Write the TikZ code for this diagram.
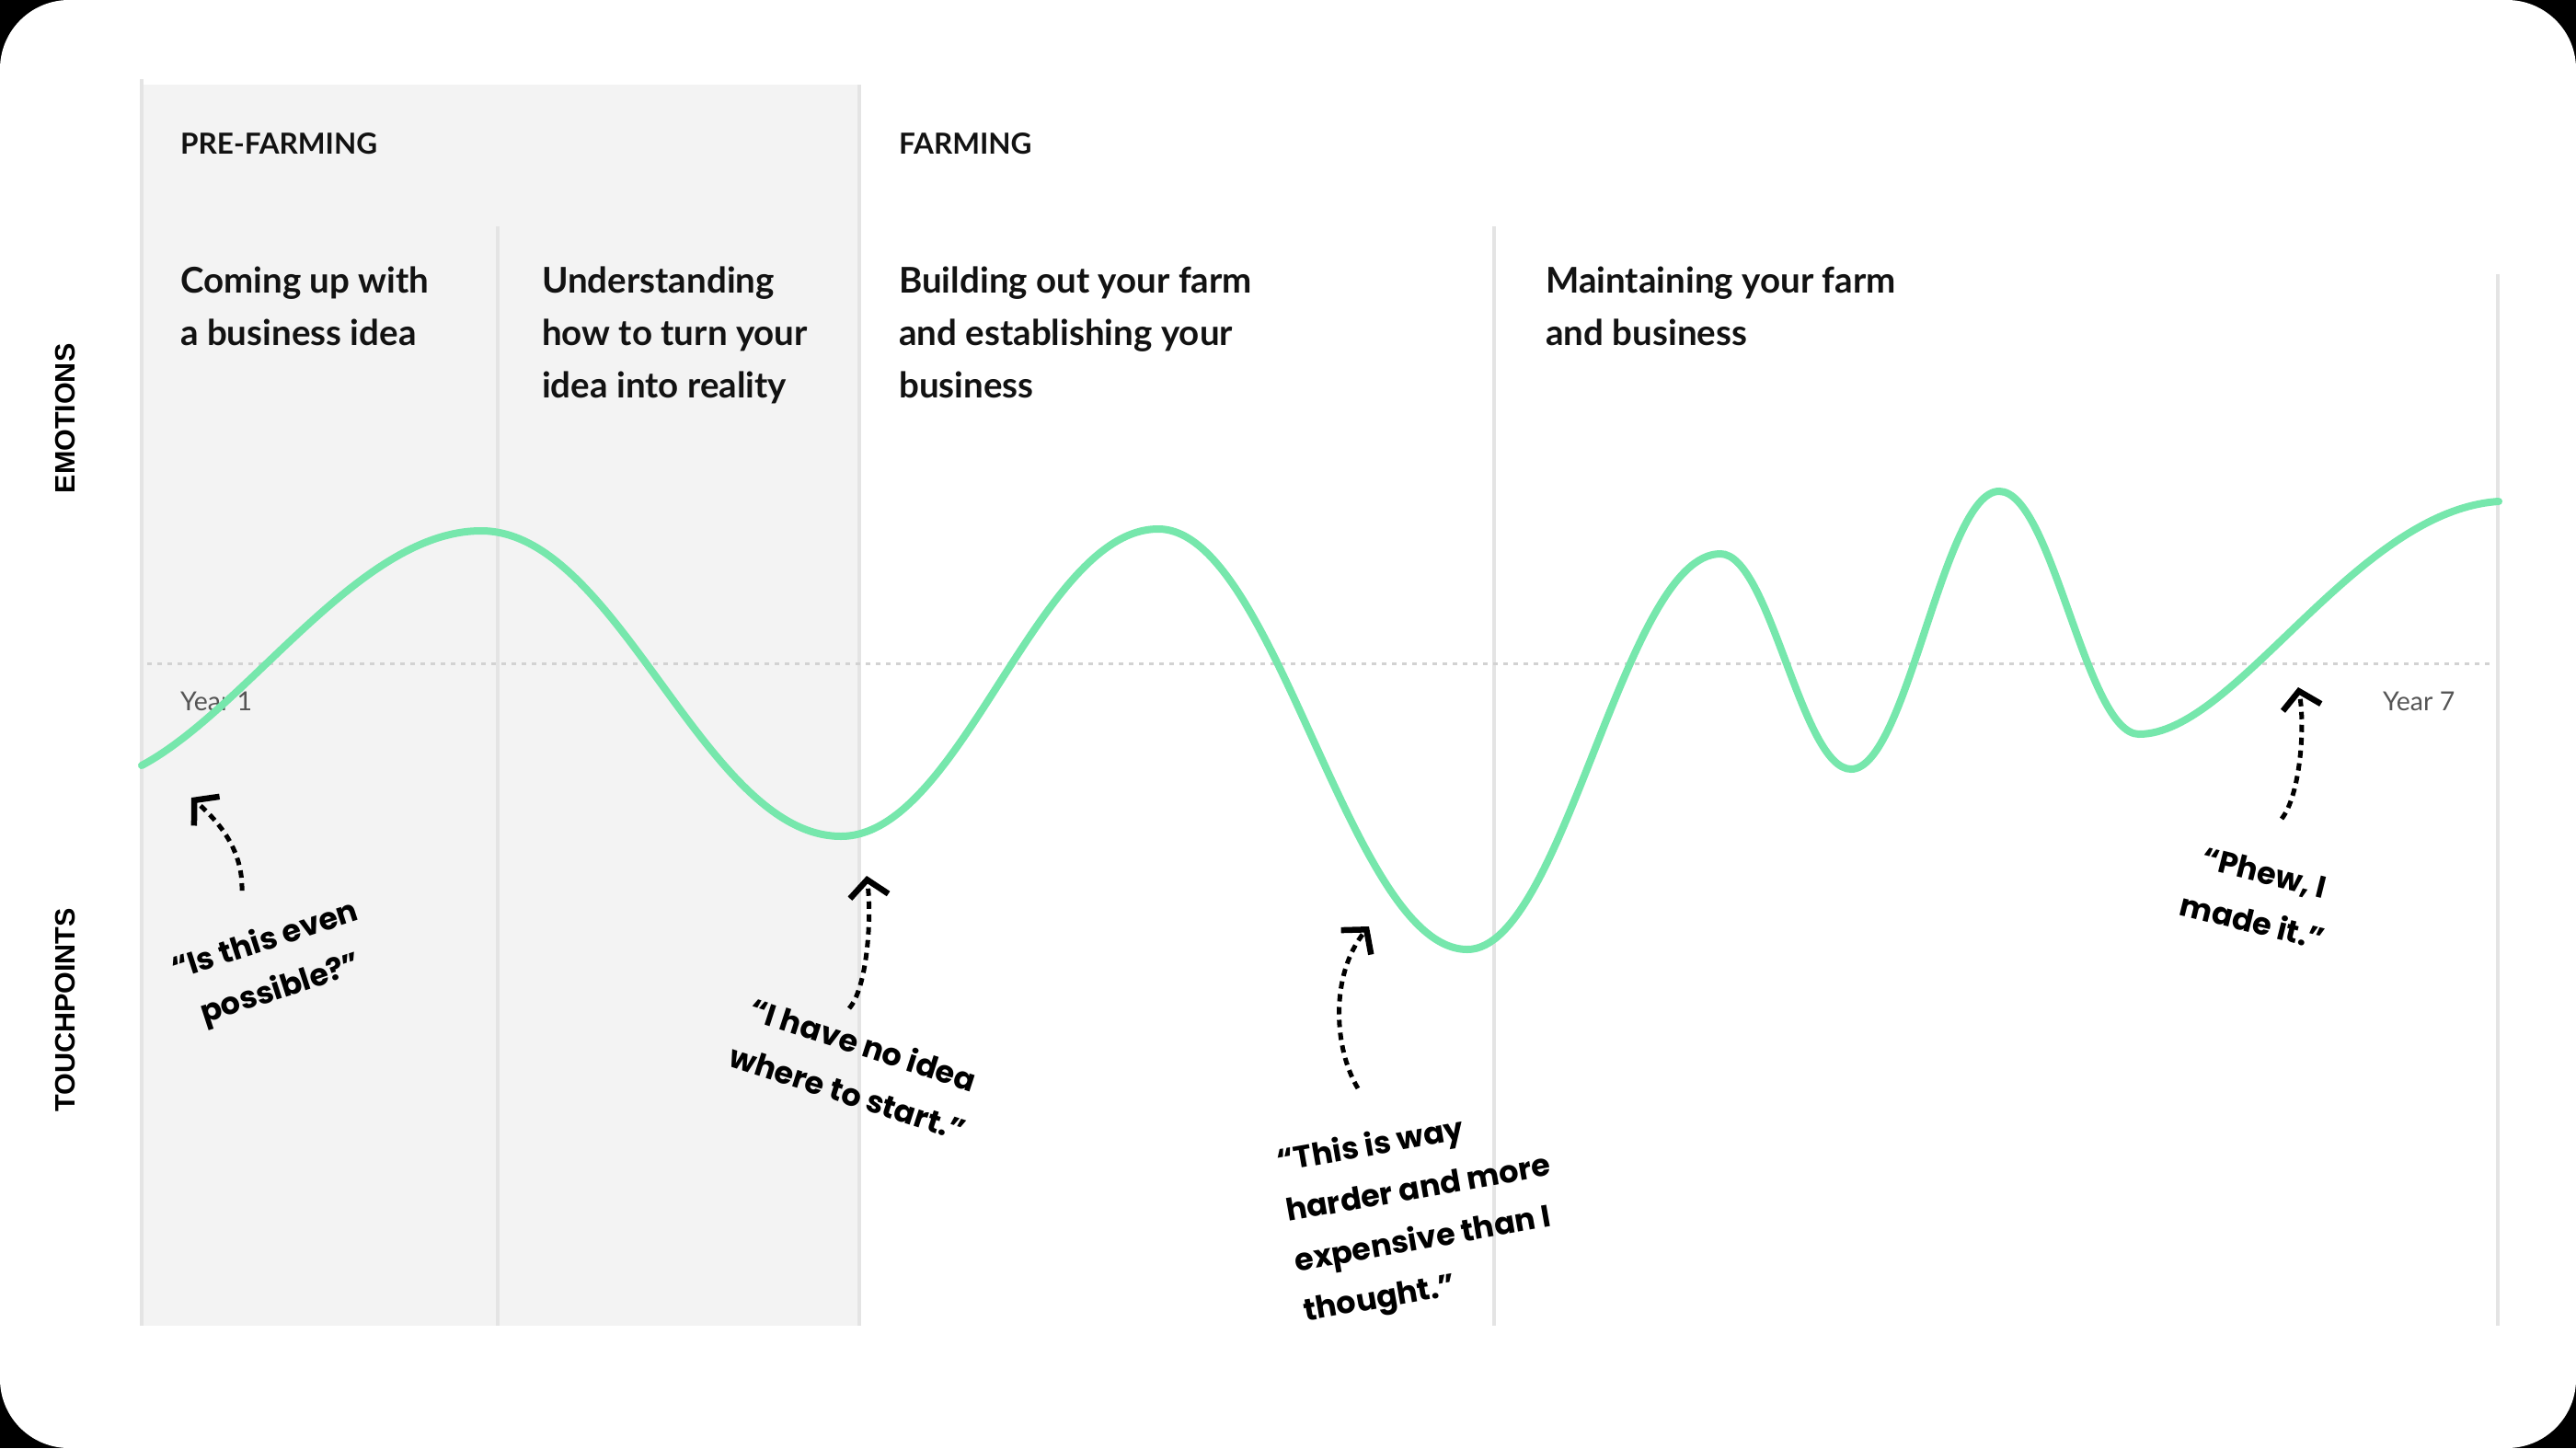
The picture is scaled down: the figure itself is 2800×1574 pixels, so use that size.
\documentclass[tikz,border=0pt]{standalone}
\usepackage{fontspec}
\setmainfont{Lato}
\newfontfamily\qfont{Poppins}
\newfontfamily\lblfont{Liberation Sans}
\usetikzlibrary{arrows.meta}
\definecolor{mint}{RGB}{118,231,172}
\definecolor{panel}{RGB}{243,243,243}
\definecolor{divider}{RGB}{228,228,228}
\definecolor{guide}{RGB}{210,210,210}
\definecolor{yeargray}{RGB}{85,85,85}
\begin{document}
\begin{tikzpicture}[x=1pt,y=-1pt,
 heading/.style={anchor=north west, inner sep=0pt, align=left, font=\fontsize{38.5}{57}\selectfont\bfseries, text=black!93},
 phase/.style={anchor=base west, inner sep=0pt, font=\fontsize{31.5}{38}\selectfont\bfseries, text=black!93},
 axislabel/.style={rotate=90, inner sep=0pt, font=\lblfont\fontsize{30.5}{36}\selectfont\bfseries},
 yearlabel/.style={anchor=base west, inner sep=0pt, text=yeargray, font=\fontsize{28.5}{32}\selectfont},
 quote/.style={inner sep=0pt, font=\qfont\fontsize{33.5}{55}\selectfont\bfseries},
 divline/.style={draw=divider, line width=4pt},
 pointer/.style={line width=5pt, dash pattern=on 8pt off 6pt, -{Straight Barb[length=18pt,width=42pt,line width=6.5pt]}},
 emotion/.style={draw=mint, line width=8pt, line cap=round}
]
\useasboundingbox (0,0) rectangle (2800,1574);
% frame
\fill[black] (0,0) rectangle (2800,1574);
\fill[white, rounded corners=75pt] (0,0) rectangle (2800,1574);
% pre-farming panel
\fill[panel] (154,92) rectangle (934,1441);
% dividers
\draw[divline] (154,86) -- (154,1441);
\draw[divline] (541,246) -- (541,1441);
\draw[divline] (934,92) -- (934,1441);
\draw[divline] (1624,246) -- (1624,1441);
\draw[divline] (2715,298) -- (2715,1441);
% mid guide
\draw[draw=guide, line width=3pt, dash pattern=on 5pt off 6pt] (160,721) -- (2708,721);
% texts
\node[phase] (pre) at (196,167) {PRE-FARMING};
\node[phase] (farm) at (977,167) {FARMING};
\node[heading] (h1) at (196,290) {Coming up with\\a business idea};
\node[heading] (h2) at (589,290) {Understanding\\how to turn your\\idea into reality};
\node[heading] (h3) at (977,290) {Building out your farm\\and establishing your\\business};
\node[heading] (h4) at (1680,290) {Maintaining your farm\\and business};
\node[axislabel] (emo) at (71,455) {EMOTIONS};
\node[axislabel] (touch) at (71,1098) {TOUCHPOINTS};
\node[yearlabel] (y1) at (196,772) {Year 1};
\node[yearlabel] (y7) at (2590,772) {Year 7};
% emotion curve
\draw[emotion] (154,832) .. controls (270,770) and (390,577) .. (523,577)
  .. controls (672,577) and (765,909) .. (914,909)
  .. controls (1045,909) and (1128,575) .. (1259,575)
  .. controls (1387,575) and (1467,1032) .. (1595,1032)
  .. controls (1700,1032) and (1765,602) .. (1870,602)
  .. controls (1924,602) and (1958,836) .. (2012,836)
  .. controls (2073,836) and (2112,534) .. (2173,534)
  .. controls (2231,534) and (2267,798) .. (2325,798)
  .. controls (2430,798) and (2560,555) .. (2716,545);
% quotes
\node[quote, align=center, rotate=18] (q1) at (297,1050) {“Is this even\\possible?”};
\node[quote, align=center, rotate=-18] (q2) at (930,1161) {“I have no idea\\where to start.”};
\node[quote, align=left, rotate=10] (q3) at (1547,1321) {“This is way\\harder and more\\expensive than I\\thought.”};
\node[quote, align=center, rotate=-14] (q4) at (2455,975) {“Phew, I\\made it.”};
% pointers
\coordinate (a1s) at (263,968);  \coordinate (a1e) at (208,867);
\coordinate (a2s) at (923,1096); \coordinate (a2e) at (942,952);
\coordinate (a3s) at (1476,1183); \coordinate (a3e) at (1488,1007);
\coordinate (a4s) at (2480,890); \coordinate (a4e) at (2498,747);
\draw[pointer] (a1s) .. controls (264,925) and (240,895) .. (a1e);
\draw[pointer] (a2s) .. controls (942,1075) and (948,1000) .. (a2e);
\draw[pointer] (a3s) .. controls (1450,1140) and (1445,1060) .. (a3e);
\draw[pointer] (a4s) .. controls (2500,865) and (2506,790) .. (a4e);
\end{tikzpicture}
\end{document}
